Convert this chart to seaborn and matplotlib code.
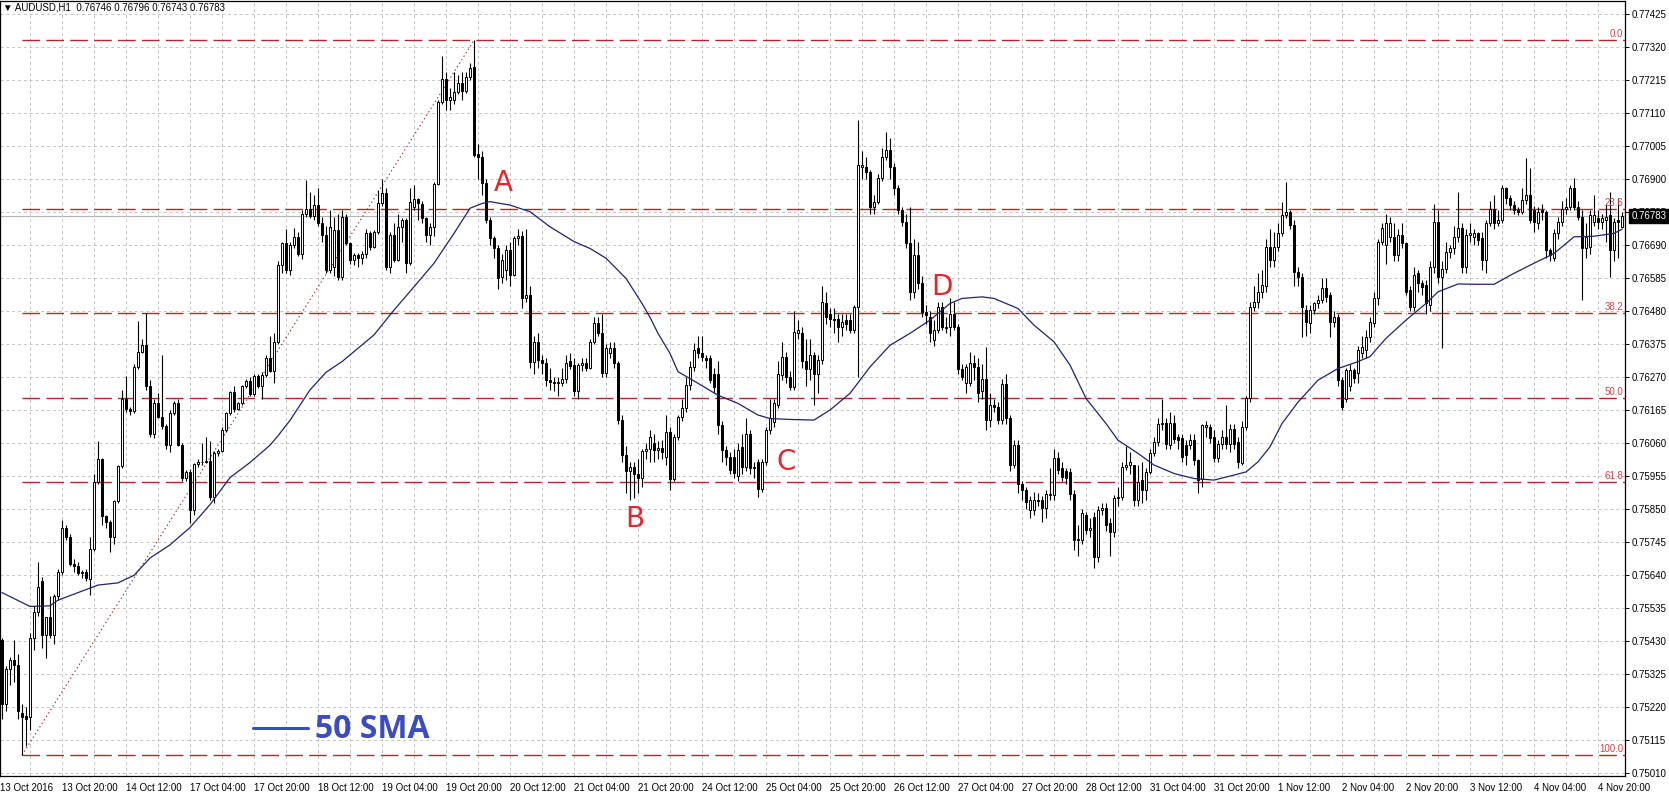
import numpy as np
import matplotlib
matplotlib.use("Agg")
import matplotlib.pyplot as plt
import matplotlib.transforms as mtransforms
from matplotlib.lines import Line2D
import seaborn as sns

# prices are stored as points (1e-5) above 0.75000
BASE = 0.75
PT = 1e-5

opens = [
    432, 231, 341, 371, 355, 201, 190, 188, 438, 523,
    621, 450, 505, 450, 572, 651, 791, 761, 675, 669,
    645, 650, 627, 724, 937, 1010, 828, 809, 761, 876,
    986, 1199, 1169, 1162, 1303, 1351, 1373, 1242, 1089, 1187,
    1144, 1114, 1053, 1156, 1187, 1053, 950, 968, 846, 992,
    998, 1001, 1004, 889, 1029, 1035, 1102, 1156, 1223, 1169,
    1187, 1242, 1256, 1215, 1272, 1240, 1276, 1329, 1290, 1382,
    1625, 1695, 1610, 1690, 1716, 1660, 1790, 1804, 1783, 1816,
    1760, 1722, 1610, 1620, 1738, 1589, 1780, 1695, 1642, 1658,
    1650, 1660, 1727, 1685, 1732, 1823, 1856, 1621, 1722, 1642,
    1748, 1770, 1632, 1810, 1835, 1820, 1775, 1722, 1748, 1884,
    2146, 2217, 2150, 2151, 2178, 2205, 2180, 2225, 2257, 1980,
    1971, 1886, 1770, 1711, 1680, 1589, 1610, 1674, 1595, 1711,
    1720, 1520, 1531, 1318, 1382, 1324, 1313, 1260, 1255, 1250,
    1250, 1265, 1320, 1308, 1224, 1308, 1313, 1300, 1382, 1441,
    1410, 1282, 1345, 1361, 1313, 1133, 1022, 970, 985, 960,
    950, 1033, 1040, 1059, 1037, 1045, 1016, 1096, 947, 1080,
    1143, 1170, 1244, 1302, 1362, 1345, 1330, 1329, 1280, 1281,
    1117, 1037, 1016, 1016, 955, 1048, 984, 1090, 980, 1000,
    915, 1000, 1101, 1128, 1181, 1276, 1334, 1271, 1239, 1409,
    1409, 1320, 1297, 1340, 1281, 1324, 1504, 1472, 1456, 1456,
    1430, 1451, 1451, 1419, 1493, 1939, 1939, 1923, 1812, 1828,
    1902, 1971, 1992, 1939, 1870, 1801, 1764, 1695, 1542, 1658,
    1568, 1477, 1462, 1387, 1419, 1493, 1425, 1430, 1472, 1430,
    1297, 1250, 1250, 1313, 1302, 1224, 1265, 1133, 1180, 1175,
    1133, 1249, 1140, 990, 1053, 931, 910, 846, 846, 878,
    878, 852, 894, 894, 1011, 979, 970, 968, 899, 751,
    751, 830, 783, 825, 698, 846, 852, 804, 777, 884,
    889, 985, 990, 990, 878, 942, 910, 968, 1027, 1064,
    1122, 1125, 1053, 1125, 1080, 1075, 1053, 1053, 1069, 1005,
    947, 1111, 1111, 1080, 1011, 1058, 1080, 1058, 1103, 1064,
    995, 1111, 1202, 1493, 1509, 1541, 1558, 1684, 1642, 1684,
    1727, 1785, 1796, 1753, 1605, 1589, 1483, 1441, 1483, 1504,
    1515, 1552, 1530, 1446, 1462, 1260, 1200, 1240, 1292, 1282,
    1345, 1356, 1398, 1441, 1520, 1700, 1690, 1716, 1716, 1658,
    1722, 1695, 1546, 1494, 1600, 1568, 1562, 1499, 1621, 1764,
    1589, 1615, 1669, 1679, 1716, 1743, 1621, 1722, 1716, 1727,
    1712, 1642, 1759, 1806, 1759, 1770, 1870, 1838, 1817, 1801,
    1796, 1833, 1849, 1801, 1760, 1801, 1796, 1674, 1648, 1727,
    1764, 1806, 1812, 1870, 1812, 1780, 1679, 1684, 1764, 1775,
    1764, 1770, 1785, 1674, 1770, 1746,
]

highs = [
    440, 350, 380, 432, 390, 231, 220, 456, 541, 681,
    633, 505, 572, 578, 660, 815, 800, 770, 690, 680,
    655, 660, 761, 960, 1065, 1012, 830, 815, 880, 990,
    1229, 1272, 1175, 1310, 1449, 1390, 1473, 1260, 1200, 1220,
    1340, 1120, 1165, 1195, 1200, 1060, 975, 978, 995, 1010,
    1060, 1080, 1065, 1035, 1040, 1110, 1160, 1225, 1240, 1190,
    1245, 1265, 1270, 1280, 1280, 1285, 1340, 1400, 1410, 1640,
    1700, 1740, 1700, 1745, 1730, 1800, 1897, 1860, 1850, 1870,
    1780, 1750, 1800, 1780, 1790, 1800, 1790, 1700, 1665, 1665,
    1670, 1740, 1735, 1738, 1865, 1900, 1870, 1730, 1760, 1790,
    1775, 1775, 1870, 1880, 1840, 1830, 1780, 1760, 1890, 2150,
    2290, 2240, 2190, 2240, 2230, 2240, 2240, 2270, 2341, 2010,
    1990, 1900, 1780, 1720, 1690, 1660, 1690, 1700, 1720, 1740,
    1735, 1740, 1560, 1400, 1410, 1340, 1330, 1300, 1270, 1270,
    1300, 1340, 1345, 1330, 1315, 1330, 1330, 1390, 1460, 1460,
    1470, 1375, 1380, 1380, 1320, 1150, 1050, 1000, 1000, 1010,
    1040, 1060, 1100, 1090, 1065, 1070, 1150, 1110, 1090, 1150,
    1200, 1270, 1320, 1377, 1400, 1400, 1340, 1340, 1300, 1320,
    1130, 1050, 1030, 1040, 1060, 1090, 1140, 1100, 1000, 1010,
    1010, 1110, 1200, 1200, 1320, 1380, 1350, 1290, 1480, 1450,
    1430, 1390, 1390, 1350, 1340, 1560, 1540, 1490, 1490, 1470,
    1470, 1470, 1470, 1500, 2087, 1990, 1970, 1930, 1850, 1915,
    2000, 2050, 2030, 1950, 1880, 1810, 1790, 1812, 1710, 1700,
    1590, 1500, 1480, 1450, 1510, 1510, 1460, 1520, 1510, 1440,
    1310, 1310, 1350, 1340, 1330, 1310, 1366, 1220, 1200, 1190,
    1265, 1280, 1150, 1070, 1070, 940, 920, 890, 905, 900,
    890, 910, 980, 1040, 1030, 1000, 980, 980, 910, 800,
    850, 840, 820, 840, 860, 870, 870, 820, 895, 920,
    1000, 1050, 1030, 990, 990, 1000, 980, 1040, 1080, 1140,
    1200, 1140, 1160, 1150, 1090, 1090, 1070, 1090, 1090, 1010,
    1120, 1130, 1120, 1100, 1070, 1100, 1180, 1120, 1120, 1080,
    1130, 1210, 1510, 1560, 1600, 1610, 1710, 1740, 1730, 1760,
    1827, 1891, 1800, 1770, 1620, 1600, 1500, 1500, 1510, 1530,
    1584, 1584, 1540, 1480, 1470, 1270, 1300, 1310, 1300, 1370,
    1400, 1420, 1460, 1540, 1710, 1760, 1790, 1780, 1760, 1740,
    1760, 1700, 1560, 1620, 1610, 1580, 1580, 1640, 1820, 1800,
    1640, 1700, 1690, 1750, 1860, 1760, 1740, 1760, 1740, 1730,
    1730, 1770, 1830, 1850, 1800, 1880, 1875, 1850, 1830, 1810,
    1870, 1966, 1934, 1815, 1810, 1820, 1800, 1680, 1740, 1780,
    1830, 1840, 1880, 1902, 1830, 1800, 1760, 1800, 1849, 1800,
    1790, 1820, 1860, 1775, 1840, 1796,
]

lows = [
    182, 207, 290, 300, 182, 67, 97, 146, 402, 511,
    408, 375, 440, 420, 560, 640, 750, 670, 650, 640,
    630, 620, 575, 715, 930, 800, 790, 712, 740, 870,
    980, 1160, 1150, 1155, 1295, 1345, 1230, 1080, 1075, 1140,
    1105, 1040, 1030, 1150, 1050, 940, 940, 805, 830, 985,
    990, 995, 880, 870, 1020, 1030, 1095, 1150, 1160, 1165,
    1180, 1235, 1210, 1210, 1235, 1200, 1270, 1285, 1250, 1375,
    1600, 1600, 1595, 1680, 1655, 1645, 1780, 1775, 1770, 1750,
    1700, 1600, 1600, 1590, 1580, 1580, 1690, 1630, 1625, 1620,
    1630, 1650, 1675, 1680, 1725, 1815, 1610, 1600, 1635, 1640,
    1700, 1600, 1625, 1800, 1770, 1760, 1700, 1690, 1720, 1880,
    2140, 2120, 2120, 2140, 2170, 2150, 2175, 2215, 1970, 1900,
    1850, 1760, 1690, 1650, 1550, 1570, 1580, 1560, 1590, 1690,
    1490, 1510, 1300, 1280, 1300, 1280, 1240, 1230, 1225, 1210,
    1240, 1250, 1295, 1210, 1200, 1290, 1290, 1295, 1375, 1400,
    1270, 1270, 1330, 1300, 1120, 1000, 900, 880, 885, 900,
    920, 1010, 1000, 1000, 1010, 1010, 990, 910, 940, 1070,
    1130, 1160, 1230, 1290, 1330, 1320, 1300, 1250, 1220, 1090,
    1000, 990, 960, 950, 940, 960, 970, 960, 950, 889,
    905, 990, 1090, 1110, 1170, 1260, 1250, 1230, 1230, 1390,
    1300, 1240, 1260, 1181, 1220, 1310, 1440, 1430, 1410, 1380,
    1400, 1420, 1410, 1410, 1271, 1900, 1900, 1790, 1790, 1820,
    1895, 1960, 1900, 1850, 1790, 1750, 1680, 1515, 1520, 1550,
    1460, 1440, 1380, 1370, 1410, 1420, 1410, 1400, 1420, 1280,
    1260, 1220, 1240, 1260, 1190, 1200, 1100, 1110, 1160, 1120,
    1120, 1120, 970, 980, 900, 880, 850, 820, 830, 860,
    810, 820, 880, 880, 960, 940, 930, 880, 720, 700,
    740, 770, 760, 661, 680, 830, 780, 700, 760, 860,
    880, 975, 960, 860, 860, 870, 880, 960, 1020, 1050,
    1100, 1040, 1040, 1060, 1040, 1000, 990, 1040, 990, 900,
    920, 1080, 1060, 1000, 1000, 1040, 1040, 1030, 1040, 980,
    990, 1100, 1190, 1480, 1490, 1520, 1540, 1620, 1620, 1670,
    1720, 1775, 1740, 1560, 1560, 1398, 1400, 1410, 1470, 1490,
    1505, 1510, 1398, 1430, 1240, 1165, 1190, 1225, 1250, 1250,
    1330, 1330, 1380, 1430, 1500, 1690, 1630, 1700, 1640, 1640,
    1680, 1530, 1480, 1480, 1540, 1530, 1470, 1480, 1600, 1570,
    1361, 1600, 1650, 1660, 1700, 1600, 1600, 1700, 1690, 1690,
    1610, 1600, 1750, 1740, 1750, 1760, 1820, 1800, 1790, 1785,
    1790, 1820, 1760, 1730, 1740, 1770, 1650, 1640, 1640, 1710,
    1750, 1790, 1800, 1800, 1770, 1515, 1650, 1660, 1750, 1740,
    1740, 1700, 1589, 1640, 1650, 1743,
]

closes = [
    231, 341, 371, 353, 207, 188, 182, 438, 523, 602,
    450, 505, 450, 572, 651, 791, 761, 675, 669, 645,
    650, 630, 724, 937, 1010, 828, 809, 761, 876, 986,
    1199, 1169, 1162, 1303, 1351, 1373, 1242, 1089, 1187, 1144,
    1114, 1053, 1156, 1187, 1053, 950, 968, 846, 992, 998,
    1001, 1004, 889, 1029, 1035, 1102, 1156, 1223, 1169, 1187,
    1242, 1256, 1215, 1272, 1240, 1276, 1329, 1290, 1382, 1625,
    1695, 1610, 1690, 1716, 1660, 1790, 1804, 1783, 1816, 1760,
    1722, 1610, 1748, 1738, 1589, 1780, 1695, 1642, 1658, 1650,
    1660, 1727, 1685, 1732, 1823, 1856, 1621, 1722, 1642, 1748,
    1770, 1632, 1828, 1835, 1825, 1775, 1722, 1748, 1884, 2146,
    2217, 2150, 2160, 2178, 2205, 2180, 2225, 2252, 1976, 1971,
    1886, 1770, 1711, 1680, 1584, 1642, 1674, 1595, 1711, 1720,
    1520, 1531, 1318, 1382, 1324, 1313, 1260, 1255, 1250, 1255,
    1265, 1313, 1305, 1224, 1308, 1313, 1300, 1382, 1441, 1410,
    1282, 1361, 1361, 1313, 1133, 1022, 970, 985, 960, 950,
    1033, 1040, 1080, 1037, 1045, 1030, 1096, 947, 1080, 1143,
    1170, 1244, 1302, 1356, 1345, 1334, 1324, 1260, 1239, 1117,
    1037, 1016, 974, 963, 1037, 984, 1090, 980, 985, 915,
    1000, 1101, 1138, 1186, 1281, 1334, 1271, 1239, 1414, 1419,
    1320, 1297, 1340, 1281, 1324, 1509, 1462, 1456, 1451, 1430,
    1446, 1440, 1419, 1493, 1944, 1944, 1923, 1812, 1828, 1902,
    1971, 1992, 1939, 1870, 1801, 1764, 1695, 1542, 1658, 1568,
    1477, 1467, 1409, 1419, 1493, 1430, 1430, 1472, 1430, 1297,
    1271, 1302, 1313, 1302, 1218, 1265, 1133, 1180, 1175, 1133,
    1249, 1140, 990, 1053, 931, 910, 873, 878, 880, 875,
    852, 899, 899, 1011, 974, 952, 950, 899, 751, 756,
    836, 783, 788, 698, 846, 852, 799, 777, 884, 889,
    985, 990, 1000, 878, 937, 910, 968, 1027, 1064, 1122,
    1125, 1058, 1125, 1074, 1069, 1016, 1021, 1069, 1005, 942,
    1117, 1117, 1075, 1011, 1058, 1080, 1058, 1103, 1058, 1000,
    1111, 1202, 1493, 1509, 1541, 1562, 1684, 1642, 1684, 1727,
    1785, 1796, 1753, 1605, 1589, 1493, 1446, 1483, 1504, 1515,
    1552, 1526, 1446, 1462, 1260, 1176, 1292, 1292, 1266, 1356,
    1366, 1398, 1446, 1520, 1700, 1743, 1759, 1759, 1658, 1722,
    1695, 1541, 1494, 1594, 1568, 1557, 1504, 1621, 1764, 1589,
    1615, 1669, 1679, 1716, 1743, 1621, 1722, 1727, 1727, 1706,
    1642, 1759, 1806, 1759, 1770, 1870, 1838, 1817, 1801, 1796,
    1833, 1849, 1770, 1764, 1796, 1796, 1674, 1658, 1727, 1764,
    1806, 1812, 1870, 1812, 1780, 1679, 1716, 1785, 1785, 1764,
    1775, 1780, 1674, 1764, 1764, 1783,
]

# 50 SMA at selected bars
sma_bars = [0, 7, 12, 14, 19, 24, 29, 33, 37, 42, 47, 52, 57, 62, 67, 69, 72, 77, 81, 85,
            93, 98, 103, 108, 113, 117, 120, 122, 127, 132, 137, 143, 147, 151, 156, 160,
            162, 164, 167, 169, 174, 179, 184, 189, 192, 197, 203, 207, 212, 217, 222, 227,
            232, 237, 240, 245, 248, 254, 258, 263, 267, 271, 276, 279, 284, 288, 293, 298,
            303, 308, 311, 314, 317, 320, 324, 329, 334, 339, 342, 346, 351, 356, 359, 364,
            369, 373, 378, 383, 388, 393, 398, 403, 405]
sma_pts = [584, 540, 542, 560, 584, 608, 615, 639, 694, 736, 791, 864, 950, 998, 1053, 1083,
           1132, 1229, 1285, 1319, 1404, 1483, 1557, 1632, 1727, 1807, 1822, 1828, 1817, 1796,
           1748, 1701, 1679, 1648, 1584, 1504, 1460, 1409, 1345, 1287, 1250, 1212, 1186, 1149,
           1138, 1135, 1133, 1165, 1218, 1302, 1371, 1409, 1451, 1504, 1520, 1525, 1520, 1488,
           1435, 1382, 1308, 1202, 1122, 1069, 1027, 990, 963, 947, 942, 958, 968, 1000, 1048,
           1122, 1190, 1260, 1297, 1319, 1335, 1393, 1451, 1504, 1541, 1566, 1565, 1565, 1600,
           1632, 1663, 1716, 1718, 1727, 1740]

# fibonacci retracement between swing low and swing high
fib_names = ["0.0", "23.6", "38.2", "50.0", "61.8", "100.0"]
fib_ratios = [0.0, 0.236, 0.382, 0.5, 0.618, 1.0]
swing_low_bar, swing_high_bar = 5, 118

time_labels = ["13 Oct 2016", "13 Oct 20:00", "14 Oct 12:00", "17 Oct 04:00", "17 Oct 20:00",
               "18 Oct 12:00", "19 Oct 04:00", "19 Oct 20:00", "20 Oct 12:00", "21 Oct 04:00",
               "21 Oct 20:00", "24 Oct 12:00", "25 Oct 04:00", "25 Oct 20:00", "26 Oct 12:00",
               "27 Oct 04:00", "27 Oct 20:00", "28 Oct 12:00", "31 Oct 04:00", "31 Oct 20:00",
               "1 Nov 12:00", "2 Nov 04:00", "2 Nov 20:00", "3 Nov 12:00", "4 Nov 04:00",
               "4 Nov 20:00"]
time_bars = [-0.5] + list(range(15, 400, 16))

wave_names = ["A", "B", "C", "D"]
wave_bars = [125.3, 158.3, 196.0, 235.0]
wave_pts = [1887, 818, 1000, 1556]

last_price = 0.76783
title = "AUDUSD,H1  0.76746 0.76796 0.76743 0.76783"


def to_price(pts):
    return BASE + np.asarray(pts, dtype=float) * PT


def main():
    sns.set_style("white")
    plt.rcParams['font.family'] = ['Liberation Sans', 'DejaVu Sans']

    fig = plt.figure(figsize=(16.69, 7.96), dpi=100)
    ax = fig.add_axes([0, 20 / 796, 1625 / 1669, 775 / 796])

    o = to_price(opens)
    h = to_price(highs)
    l = to_price(lows)
    c = to_price(closes)
    x = np.arange(len(c))

    # grid
    ax.set_yticks(np.round(0.75010 + 0.00105 * np.arange(24), 5))
    ax.set_xticks(time_bars)
    ax.set_xticks(np.arange(7, 406, 8), minor=True)
    for which, axis in [("major", "y"), ("major", "x"), ("minor", "x")]:
        ax.grid(True, which=which, axis=axis, color="#c4c4c4", lw=0.7,
                linestyle=(0, (3, 3)), zorder=0)

    # current price line
    ax.axhline(last_price, color="#b4b4b4", lw=0.8, zorder=1)

    # fibonacci levels
    lo, hi = l[swing_low_bar], h[swing_high_bar]
    for name, r in zip(fib_names, fib_ratios):
        lvl = hi - (hi - lo) * r
        ax.hlines(lvl, swing_low_bar, 405.75, color="#b3262e", lw=1.0,
                  linestyles=[(0, (12.7, 4.5))], zorder=1.5)
        ax.text(405.3, lvl + 0.00003, name, ha="right", va="bottom",
                color="#d0454a", fontsize=7, zorder=5)
    ax.plot([swing_low_bar, swing_high_bar], [lo, hi], color="#9a2a30",
            lw=0.8, linestyle=(0, (1.2, 2.5)), zorder=1.6)

    # candles
    ax.vlines(x, l, h, color="black", lw=0.8, zorder=3)
    up = c >= o
    body_lo = np.minimum(o, c)
    body_h = np.abs(c - o)
    ax.bar(x[up], body_h[up], bottom=body_lo[up], width=0.6, color="white",
           edgecolor="black", lw=0.7, zorder=4)
    ax.bar(x[~up], body_h[~up], bottom=body_lo[~up], width=0.6, color="black",
           edgecolor="black", lw=0.7, zorder=4)

    # 50 SMA
    sns.lineplot(x=sma_bars, y=to_price(sma_pts), ax=ax, color="#1f2370",
                 lw=0.9, zorder=4.5, legend=False)

    # wave labels
    for name, bx, py in zip(wave_names, wave_bars, wave_pts):
        ax.text(bx, to_price(py), name, ha="center", va="center",
                color="#e3262d", fontsize=20, family="DejaVu Sans", zorder=6)

    ax.set_xlim(-0.5, 405.75)
    ax.set_ylim(0.750005, 0.774664)

    ax.set_xticklabels(time_labels, ha="left")
    ax.tick_params(axis="x", which="major", length=3, width=0.7, pad=2,
                   labelsize=7, colors="black", direction="out")
    ax.tick_params(axis="x", which="minor", length=0)
    ax.yaxis.tick_right()
    ax.set_yticklabels([f"{v:.5f}" for v in ax.get_yticks()])
    ax.tick_params(axis="y", length=3, width=0.7, pad=2, labelsize=7,
                   colors="black", direction="out")
    for tl in ax.get_xticklabels():
        tl.set_horizontalalignment("left")
    ax.set_xlabel("")
    ax.set_ylabel("")
    for sp in ax.spines.values():
        sp.set_visible(True)
        sp.set_color("black")
        sp.set_linewidth(0.9)

    # last price marker on the axis
    trans = mtransforms.blended_transform_factory(ax.transAxes, ax.transData)
    ax.text(1.004, last_price, "0.76783", transform=trans, ha="left",
            va="center", color="white", fontsize=7, clip_on=False, zorder=10,
            bbox=dict(boxstyle="square,pad=0.22", fc="black", ec="black"))

    # header
    fig.text(3 / 1669, 1 - 8 / 796, "\u25bc " + title, fontsize=7,
             va="center", ha="left", color="black")

    # SMA legend
    fig.add_artist(Line2D([253 / 1669, 308 / 1669], [1 - 728 / 796, 1 - 728 / 796],
                          color="#3b4cc0", lw=2.2))
    fig.text(315 / 1669, 1 - 729 / 796, "50 SMA", fontsize=23, fontweight="bold",
             family="Open Sans", color="#3b4cc0", va="center", ha="left")

    fig.savefig("out.png", dpi=100)
    plt.close(fig)


if __name__ == "__main__":
    main()
